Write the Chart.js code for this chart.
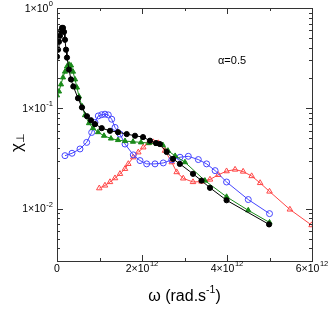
<!DOCTYPE html>
<html>
<head>
<meta charset="utf-8">
<script src="https://cdn.jsdelivr.net/npm/chart.js@4.4.1/dist/chart.umd.min.js"></script>
<style>
  html, body { margin:0; padding:0; background:#fff; }
  #wrap { width:329px; height:309px; }
</style>
</head>
<body>
<div id="wrap"><canvas id="chi" width="329" height="309"></canvas></div>
<script>
// omega in units of 1e12 rad/s, chi_perp (log scale)
const blackX = [0.0, 0.024, 0.047, 0.07, 0.094, 0.118, 0.141, 0.165, 0.188, 0.212, 0.235, 0.282, 0.329, 0.384, 0.494, 0.588, 0.706, 0.8, 0.894, 1.052, 1.247, 1.435, 1.64, 1.835, 2.024, 2.188, 2.33, 2.42, 2.58, 2.73, 2.89, 3.2, 3.4, 3.6, 3.99, 4.99];
const blackY = [0.327, 0.384, 0.461, 0.528, 0.592, 0.634, 0.634, 0.578, 0.482, 0.384, 0.320, 0.243, 0.194, 0.165, 0.126, 0.102, 0.0833, 0.076, 0.0695, 0.0634, 0.0596, 0.0578, 0.0553, 0.0532, 0.0516, 0.0475, 0.045, 0.044, 0.0367, 0.0313, 0.0279, 0.0222, 0.019, 0.0161, 0.0121, 0.00695];

const greenX = [0.0, 0.047, 0.094, 0.141, 0.188, 0.235, 0.282, 0.329, 0.376, 0.424, 0.47, 0.518, 0.588, 0.659, 0.753, 0.847, 0.965, 1.106, 1.27, 1.435, 1.6, 1.788, 1.976, 2.165, 2.35, 2.49, 2.61, 2.78, 3.01, 3.48, 3.99, 4.5, 5.0];
const greenY = [0.1345, 0.147, 0.173, 0.203, 0.232, 0.261, 0.273, 0.267, 0.232, 0.194, 0.161, 0.131, 0.105, 0.0853, 0.071, 0.0634, 0.0578, 0.0532, 0.0499, 0.0482, 0.0471, 0.0464, 0.0457, 0.045, 0.044, 0.043, 0.0378, 0.0335, 0.029, 0.019, 0.0131, 0.0096, 0.00727];

const blueX = [0.188, 0.353, 0.541, 0.699, 0.816, 0.894, 0.972, 1.052, 1.129, 1.207, 1.287, 1.365, 1.482, 1.6, 1.795, 1.953, 2.11, 2.306, 2.5, 2.7, 2.894, 3.09, 3.325, 3.52, 3.72, 3.99, 4.5, 5.0];
const blueY = [0.0337, 0.0356, 0.0393, 0.0457, 0.0574, 0.0721, 0.0839, 0.0863, 0.0873, 0.0859, 0.0778, 0.0644, 0.0553, 0.044, 0.0343, 0.0301, 0.0279, 0.0279, 0.0285, 0.0306, 0.0325, 0.0332, 0.0308, 0.0279, 0.0239, 0.0184, 0.0123, 0.0089];

const redX = [0.995, 1.129, 1.247, 1.365, 1.482, 1.6, 1.678, 1.795, 1.913, 2.03, 2.148, 2.266, 2.384, 2.54, 2.7, 2.816, 2.97, 3.2, 3.4, 3.6, 3.795, 3.99, 4.19, 4.38, 4.58, 4.78, 5.0, 5.48, 5.99];
const redY = [0.01596, 0.017, 0.0184, 0.0201, 0.0222, 0.0249, 0.0279, 0.0325, 0.0364, 0.0408, 0.045, 0.046, 0.045, 0.0378, 0.029, 0.0231, 0.02, 0.0184, 0.0186, 0.0195, 0.0217, 0.0236, 0.0245, 0.0234, 0.0211, 0.018, 0.0148, 0.0098, 0.00684];

const xMajor = [0, 2, 4, 6];
const xMinor = [1, 3, 5];
const yDecades = [-2, -1, 0];
const annotation = 'α=0.5';

function pts(xs, ys){ return xs.map((x,i)=>({x:x, y:ys[i]})); }

function sciLabel(ctx, base, exp, x, y, align){
  ctx.font = '10.5px "Liberation Sans", Arial, sans-serif';
  const wb = ctx.measureText(base).width;
  ctx.font = '7.5px "Liberation Sans", Arial, sans-serif';
  const we = exp ? ctx.measureText(exp).width + 0.5 : 0;
  const w = wb + we;
  let sx = x;
  if(align==='center') sx = x - w/2;
  else if(align==='right') sx = x - w;
  ctx.textAlign = 'left'; ctx.textBaseline = 'middle';
  ctx.font = '10.5px "Liberation Sans", Arial, sans-serif';
  ctx.fillText(base, sx, y);
  if(exp){
    ctx.font = '7.5px "Liberation Sans", Arial, sans-serif';
    ctx.fillText(exp, sx + wb + 0.5, y - 5);
  }
}

const framePlugin = {
  id:'frame',
  afterDraw(chart){
    const {ctx, chartArea:a, scales:{x, y}} = chart;
    ctx.save();
    ctx.strokeStyle = '#333'; ctx.lineWidth = 1;
    ctx.strokeRect(Math.round(a.left)+0.5, Math.round(a.top)+0.5, Math.round(a.right-a.left), Math.round(a.bottom-a.top));
    ctx.beginPath();
    const tickX = (v, len)=>{
      const px = Math.round(x.getPixelForValue(v))+0.5;
      ctx.moveTo(px, a.bottom); ctx.lineTo(px, a.bottom-len);
      ctx.moveTo(px, a.top); ctx.lineTo(px, a.top+len);
    };
    const tickY = (v, len)=>{
      const py = Math.round(y.getPixelForValue(v))+0.5;
      ctx.moveTo(a.left, py); ctx.lineTo(a.left+len, py);
      ctx.moveTo(a.right, py); ctx.lineTo(a.right-len, py);
    };
    xMajor.forEach(v=>tickX(v, 6));
    xMinor.forEach(v=>tickX(v, 3));
    yDecades.forEach(d=>tickY(Math.pow(10,d), 6));
    for(let d=-3; d<0; d++){
      for(let m=2; m<10; m++){
        const v = m*Math.pow(10,d);
        if(v>=y.min && v<=y.max) tickY(v, 3);
      }
    }
    ctx.stroke();

    ctx.fillStyle = '#000';
    xMajor.forEach(v=>{
      const px = x.getPixelForValue(v);
      if(v===0) sciLabel(ctx, '0', '', px, 269, 'center');
      else sciLabel(ctx, v + '×10', '12', px, 269, 'center');
    });
    yDecades.forEach(d=>{
      sciLabel(ctx, '1×10', String(d).replace('-', '-'), 53, y.getPixelForValue(Math.pow(10,d))+1, 'right');
    });

    // axis titles
    ctx.textBaseline = 'middle';
    ctx.font = '16px "Liberation Sans", Arial, sans-serif';
    const t1 = 'ω (rad.s';
    const t2 = ')';
    const w1 = ctx.measureText(t1).width, w3 = ctx.measureText(t2).width;
    ctx.font = '10.5px "Liberation Sans", Arial, sans-serif';
    const w2 = ctx.measureText('-1').width;
    const cx = (a.left + a.right)/2;
    let sx = cx - (w1+w2+w3)/2;
    ctx.textAlign = 'left';
    ctx.font = '16px "Liberation Sans", Arial, sans-serif';
    ctx.fillText(t1, sx, 297);
    ctx.font = '10.5px "Liberation Sans", Arial, sans-serif';
    ctx.fillText('-1', sx + w1, 290);
    ctx.font = '16px "Liberation Sans", Arial, sans-serif';
    ctx.fillText(t2, sx + w1 + w2, 297);

    ctx.save();
    ctx.translate(17, 146);
    ctx.rotate(-Math.PI/2);
    ctx.font = '17px "Liberation Sans", Arial, sans-serif';
    ctx.textAlign = 'left';
    ctx.fillText('χ', -6, 0);
    const wc = ctx.measureText('χ').width;
    ctx.font = '11px "DejaVu Sans", sans-serif';
    ctx.fillText('⊥', -6 + wc, 4);
    ctx.restore();

    ctx.font = '11px "Liberation Sans", Arial, sans-serif';
    ctx.textAlign = 'left';
    ctx.fillText(annotation, 218, 61);
    ctx.restore();
  }
};

function series(label, xs, ys, color, style, filled, r){
  return {
    label, data: pts(xs, ys), borderColor: color, backgroundColor: filled ? color : 'rgba(0,0,0,0)',
    pointBorderColor: color, pointBackgroundColor: filled ? color : 'rgba(0,0,0,0)',
    pointStyle: style, pointRadius: r, pointBorderWidth: 1, borderWidth: 1, tension: 0, fill: false
  };
}

new Chart(document.getElementById('chi').getContext('2d'), {
  type: 'line',
  data: { datasets: [
    series('black', blackX, blackY, '#000000', 'circle', true, 2.6),
    series('green', greenX, greenY, '#1a8a1a', 'triangle', true, 3),
    series('blue', blueX, blueY, '#4545ff', 'circle', false, 3),
    series('red', redX, redY, '#ff4545', 'triangle', false, 3.2)
  ]},
  options: {
    responsive: false, animation: false,
    layout: { padding: { left: 57, top: 8, right: 17, bottom: 48 } },
    plugins: { legend: { display: false }, tooltip: { enabled: false } },
    scales: {
      x: { type: 'linear', min: 0, max: 6, display: false },
      y: { type: 'logarithmic', min: 0.003, max: 1, display: false }
    }
  },
  plugins: [framePlugin]
});
</script>
</body>
</html>
